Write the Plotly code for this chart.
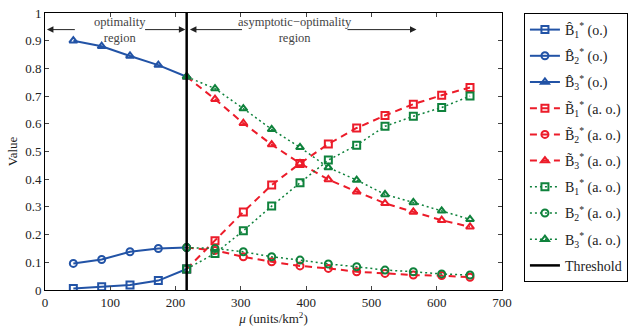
import plotly.graph_objects as go

# ---- data ----
threshold = 217
mu_o = [43.4, 86.8, 130.2, 173.6, 217.0]
mu_ao = [217.0, 260.4, 303.8, 347.2, 390.6, 434.0, 477.4, 520.8, 564.2, 607.6, 651.0]

B1_hat = [0.005, 0.012, 0.018, 0.034, 0.076]
B2_hat = [0.096, 0.110, 0.138, 0.150, 0.153]
B3_hat = [0.900, 0.880, 0.845, 0.812, 0.770]

B1_tilde = [0.076, 0.178, 0.282, 0.379, 0.457, 0.527, 0.585, 0.630, 0.671, 0.703, 0.731]
B2_tilde = [0.153, 0.143, 0.120, 0.102, 0.087, 0.078, 0.066, 0.060, 0.054, 0.052, 0.046]
B3_tilde = [0.770, 0.689, 0.602, 0.525, 0.457, 0.399, 0.355, 0.313, 0.282, 0.252, 0.228]

B1_star = [0.076, 0.132, 0.214, 0.303, 0.387, 0.469, 0.523, 0.591, 0.627, 0.659, 0.700]
B2_star = [0.153, 0.150, 0.138, 0.120, 0.108, 0.094, 0.084, 0.072, 0.066, 0.058, 0.054]
B3_star = [0.770, 0.727, 0.655, 0.580, 0.515, 0.442, 0.397, 0.345, 0.316, 0.286, 0.255]

BLUE = "#2253a6"
RED = "#ec1c2a"
GREEN = "#0f823c"
FONT = "Liberation Serif"

fig = go.Figure()

def add(x, y, name, color, dash, symbol, width, group, rank):
    fig.add_trace(go.Scatter(
        x=x, y=y, name=name, mode="lines+markers",
        line=dict(color=color, dash=dash, width=width),
        marker=dict(symbol=symbol, size=7, color=color,
                    line=dict(color=color, width=2)),
        legendgroup=group, legendrank=rank))

add(mu_ao, B1_tilde, "B̃<sub>1</sub><sup>*</sup> (a. o.)", RED, "7px,5px", "square-open", 2, "g4", 4)
add(mu_ao, B2_tilde, "B̃<sub>2</sub><sup>*</sup> (a. o.)", RED, "7px,5px", "circle-open", 2, "g5", 5)
add(mu_ao, B3_tilde, "B̃<sub>3</sub><sup>*</sup> (a. o.)", RED, "7px,5px", "triangle-up-open", 2, "g6", 6)
add(mu_o, B1_hat, "B̂<sub>1</sub><sup>*</sup> (o.)", BLUE, "solid", "square-open", 2, "g1", 1)
add(mu_o, B2_hat, "B̂<sub>2</sub><sup>*</sup> (o.)", BLUE, "solid", "circle-open", 2, "g2", 2)
add(mu_o, B3_hat, "B̂<sub>3</sub><sup>*</sup> (o.)", BLUE, "solid", "triangle-up-open", 2, "g3", 3)
add(mu_ao, B1_star, "B<sub>1</sub><sup>*</sup> (a. o.)", GREEN, "2px,3px", "square-open", 1.5, "g7", 7)
add(mu_ao, B2_star, "B<sub>2</sub><sup>*</sup> (a. o.)", GREEN, "2px,3px", "circle-open", 1.5, "g8", 8)
add(mu_ao, B3_star, "B<sub>3</sub><sup>*</sup> (a. o.)", GREEN, "2px,3px", "triangle-up-open", 1.5, "g9", 9)

fig.add_trace(go.Scatter(x=[threshold, threshold], y=[0, 1], mode="lines",
                         name="Threshold", line=dict(color="black", width=2.5),
                         legendgroup="g10", legendrank=10))

# region annotations
ay = 0.94
ann = []
def arrow(head, tail):
    ann.append(dict(x=head, y=ay, ax=tail, ay=ay, xref="x", yref="y",
                    axref="x", ayref="y", showarrow=True, arrowhead=2,
                    arrowsize=1.3, arrowwidth=1, arrowcolor="#222", text=""))
arrow(3, 48)
arrow(215, 151)
arrow(222, 304)
arrow(569, 461)
ann.append(dict(x=115, y=ay, xref="x", yref="y", showarrow=False,
                text="optimality<br>region", font=dict(family=FONT, size=12.5, color="#444")))
ann.append(dict(x=383, y=ay, xref="x", yref="y", showarrow=False,
                text="asymptotic−optimality<br>region", font=dict(family=FONT, size=12.5, color="#444")))

fig.update_layout(
    width=644, height=327,
    margin=dict(l=45, r=142, t=13, b=37),
    paper_bgcolor="white", plot_bgcolor="white",
    font=dict(family=FONT, size=13, color="#222"),
    annotations=ann,
    showlegend=True,
    legend=dict(x=1.048, y=1.0, xanchor="left", yanchor="top",
                bordercolor="black", borderwidth=1, bgcolor="white",
                traceorder="grouped", tracegroupgap=5, maxheight=1,
                font=dict(family=FONT, size=14, color="#222")),
)
fig.update_xaxes(range=[0, 700], tickvals=[0, 100, 200, 300, 400, 500, 600, 700],
                 ticks="inside", ticklen=4, showline=True, linecolor="black",
                 linewidth=1, mirror="ticks", showgrid=False, zeroline=False,
                 automargin=False,
                 title=dict(text="<i>μ</i> (units/km<sup>2</sup>)", standoff=4,
                            font=dict(size=13)))
fig.update_yaxes(range=[0, 1], tickvals=[i / 10 for i in range(11)],
                 ticktext=["0", "0.1", "0.2", "0.3", "0.4", "0.5", "0.6", "0.7", "0.8", "0.9", "1"],
                 ticks="inside", ticklen=4, showline=True, linecolor="black",
                 linewidth=1, mirror="ticks", showgrid=False, zeroline=False,
                 automargin=False,
                 title=dict(text="Value", standoff=4, font=dict(size=13)))

fig.write_html("out.html")
